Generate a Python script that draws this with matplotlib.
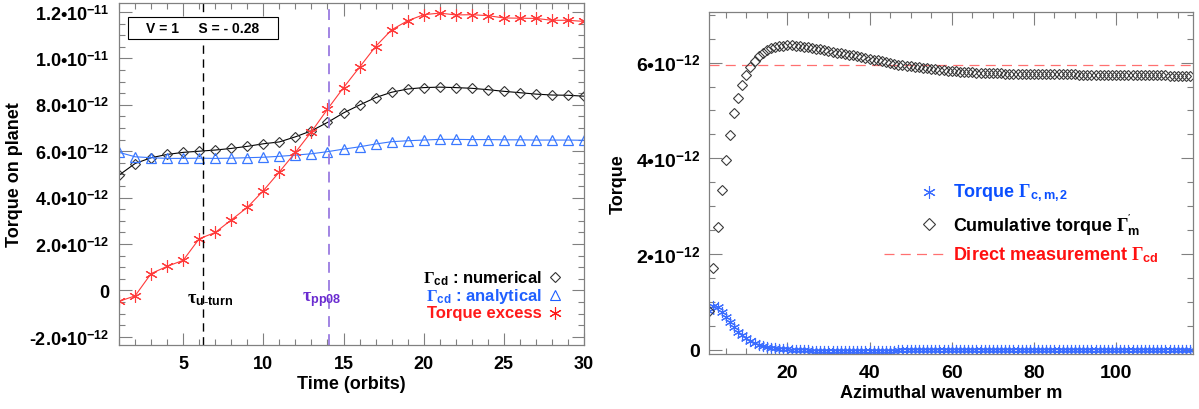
import matplotlib
matplotlib.use("Agg")
import matplotlib.pyplot as plt
from matplotlib.ticker import MultipleLocator, FixedLocator, FixedFormatter
from matplotlib.patches import Rectangle

plt.rcParams['font.family'] = ['Liberation Sans', 'DejaVu Sans']
plt.rcParams['font.weight'] = 'bold'
plt.rcParams['axes.labelweight'] = 'bold'
plt.rcParams['mathtext.fontset'] = 'custom'
plt.rcParams['mathtext.rm'] = 'Liberation Serif'
plt.rcParams['mathtext.it'] = 'Liberation Serif:italic'
plt.rcParams['mathtext.bf'] = 'Liberation Sans:bold'
plt.rcParams['mathtext.sf'] = 'Liberation Sans:bold'

# ---- left panel data (torque in units of 1e-12) ----
time_orbits = list(range(1, 31))
numerical = [4.97, 5.47, 5.72, 5.86, 5.95, 6.00, 6.05, 6.12, 6.21, 6.32,
             6.40, 6.62, 6.88, 7.24, 7.65, 7.99, 8.31, 8.54, 8.68, 8.74,
             8.76, 8.74, 8.71, 8.65, 8.58, 8.52, 8.46, 8.42, 8.41, 8.37]
analytical = [5.95, 5.76, 5.72, 5.69, 5.69, 5.70, 5.69, 5.70, 5.72, 5.74,
              5.78, 5.83, 5.89, 5.98, 6.09, 6.19, 6.31, 6.41, 6.45, 6.48,
              6.51, 6.51, 6.50, 6.50, 6.49, 6.49, 6.48, 6.48, 6.48, 6.47]
excess = [-0.47, -0.23, 0.73, 1.04, 1.30, 2.23, 2.50, 3.04, 3.58, 4.30,
          5.11, 5.95, 6.84, 7.81, 8.74, 9.62, 10.51, 11.23, 11.62, 11.88,
          11.95, 11.87, 11.88, 11.84, 11.74, 11.73, 11.72, 11.64, 11.64, 11.59]
t_uturn = 6.26
t_pp08 = 14.1
left_yticks = [-2, 0, 2, 4, 6, 8, 10, 12]
left_yticklabels = ['-2.0•10$^{\\mathbf{-12}}$', '0', '2.0•10$^{\\mathbf{-12}}$',
                    '4.0•10$^{\\mathbf{-12}}$', '6.0•10$^{\\mathbf{-12}}$',
                    '8.0•10$^{\\mathbf{-12}}$', '1.0•10$^{\\mathbf{-11}}$',
                    '1.2•10$^{\\mathbf{-11}}$']

# ---- right panel data (torque in units of 1e-12) ----
m_values = list(range(1, 119))
torque_m = [0.82, 0.91, 0.89, 0.78, 0.68, 0.57, 0.47, 0.38, 0.31, 0.24,
            0.19, 0.14, 0.10, 0.08, 0.06, 0.04, 0.03, 0.02, 0.015, 0.01,
            0.005, 0.0, -0.01, -0.01, -0.01, -0.02, -0.02, -0.02, -0.02, -0.02,
            -0.02, -0.02, -0.02, -0.02, -0.02, -0.02, -0.02, -0.02, -0.02, -0.02,
            -0.02, -0.02, -0.02, -0.02, -0.02, -0.02, -0.01, -0.01, -0.01, -0.01,
            -0.01, -0.01, -0.01, -0.01, -0.01, -0.01, -0.01, -0.01, -0.01, -0.01,
            -0.01, -0.01, -0.01, -0.01, -0.01, 0.0, 0.0, 0.0, 0.0, 0.0,
            0.0, 0.0, 0.0, 0.0, 0.0, 0.0, 0.0, 0.0, 0.0, 0.0,
            0.0, 0.0, 0.0, 0.0, 0.0, 0.0, 0.0, 0.0, 0.0, 0.0,
            0.0, 0.0, 0.0, 0.0, 0.0, 0.0, 0.0, 0.0, 0.0, 0.0,
            0.0, 0.0, 0.0, 0.0, 0.0, 0.0, 0.0, 0.0, 0.0, 0.0,
            0.0, 0.0, 0.0, 0.0, 0.0, 0.0, 0.0, 0.0]
cumulative = [0.82, 1.70, 2.56, 3.34, 3.97, 4.49, 4.95, 5.27, 5.54, 5.74,
              5.90, 6.03, 6.13, 6.20, 6.26, 6.30, 6.32, 6.34, 6.35, 6.36,
              6.36, 6.35, 6.34, 6.33, 6.32, 6.31, 6.29, 6.28, 6.26, 6.25,
              6.23, 6.21, 6.20, 6.18, 6.16, 6.15, 6.13, 6.11, 6.10, 6.08,
              6.06, 6.05, 6.03, 6.01, 5.99, 5.97, 5.95, 5.94, 5.93, 5.92,
              5.91, 5.90, 5.89, 5.88, 5.87, 5.86, 5.85, 5.84, 5.83, 5.82,
              5.82, 5.81, 5.81, 5.80, 5.80, 5.79, 5.79, 5.79, 5.78, 5.78,
              5.78, 5.78, 5.77, 5.77, 5.77, 5.77, 5.77, 5.77, 5.77, 5.77,
              5.76, 5.76, 5.76, 5.76, 5.76, 5.76, 5.76, 5.76, 5.76, 5.76,
              5.75, 5.75, 5.75, 5.75, 5.75, 5.75, 5.75, 5.75, 5.75, 5.75,
              5.74, 5.74, 5.74, 5.74, 5.74, 5.74, 5.74, 5.74, 5.74, 5.74,
              5.74, 5.74, 5.73, 5.73, 5.73, 5.73, 5.73, 5.73]
direct_measurement = 5.95
right_yticks = [0, 2, 4, 6]
right_yticklabels = ['0', '2•10$^{\\mathbf{-12}}$', '4•10$^{\\mathbf{-12}}$',
                     '6•10$^{\\mathbf{-12}}$']

spine_gray = '#808080'
asterisk = (6, 2, 0)

fig = plt.figure(figsize=(11.99, 4.10), dpi=100)
ax1 = fig.add_axes([0.0993, 0.156, 0.3878, 0.834])
ax2 = fig.add_axes([0.5916, 0.134, 0.4037, 0.8334])

for ax in (ax1, ax2):
    for s in ax.spines.values():
        s.set_color(spine_gray)
        s.set_linewidth(0.9)
    ax.tick_params(which='both', direction='in', top=True, right=True,
                   color=spine_gray, width=0.8, labelcolor='black')
    ax.tick_params(which='major', length=9, pad=7)
    ax.tick_params(which='minor', length=4.5)

# ---- left panel ----
ax1.plot(time_orbits, numerical, color='black', lw=0.8, marker='D', ms=5,
         mfc='none', mec='#333333', mew=0.8)
ax1.plot(time_orbits, analytical, color='#3a78ff', lw=0.8, marker='^', ms=7,
         mfc='none', mec='#3a78ff', mew=0.9)
ax1.plot(time_orbits, excess, color='#ff3a3a', lw=0.8, marker=asterisk, ms=9,
         mec='#ff3a3a', mew=0.8)
ax1.axvline(t_uturn, color='black', lw=1.0, ls=(0, (6, 4)))
ax1.axvline(t_pp08, color='#9a7be0', lw=1.3, ls=(0, (6, 4)))
ax1.set_xlim(1, 30)
ax1.set_ylim(-2.35, 12.38)
ax1.xaxis.set_major_locator(FixedLocator([5, 10, 15, 20, 25, 30]))
ax1.xaxis.set_minor_locator(MultipleLocator(1))
ax1.yaxis.set_major_locator(FixedLocator(left_yticks))
ax1.yaxis.set_major_formatter(FixedFormatter(left_yticklabels))
ax1.yaxis.set_minor_locator(MultipleLocator(0.5))
ax1.tick_params(labelsize=13)
ax1.set_xlabel('Time (orbits)', fontsize=13, labelpad=2)
ax1.set_ylabel('Torque on planet', fontsize=13, labelpad=4)

ax1.text(t_uturn - 1.0, -0.35, r'$\mathrm{\tau}_{\mathbf{u\text{-}turn}}$',
         fontsize=13, color='black', va='center')
ax1.text(t_pp08 - 1.7, -0.35, r'$\mathrm{\tau}_{\mathbf{pp08}}$',
         fontsize=13, color='#6a2bd0', va='center')

ax1.add_patch(Rectangle((0.019, 0.895), 0.322, 0.064, transform=ax1.transAxes,
                        fill=True, facecolor='white', edgecolor='black', lw=0.8,
                        zorder=5))
ax1.text(0.18, 0.927, 'V = 1     S = - 0.28', transform=ax1.transAxes,
         ha='center', va='center', fontsize=10, zorder=6)

leg1 = [(r'$\Gamma_{\mathbf{cd}}$ : numerical', 'black', 'D', 5, 0.198),
        (r'$\Gamma_{\mathbf{cd}}$ : analytical', '#1f5fff', '^', 7, 0.146),
        ('Torque excess', '#ff1a1a', asterisk, 9, 0.094)]
for label, col, mk, size, yy in leg1:
    ax1.text(0.909, yy, label, transform=ax1.transAxes, ha='right',
             va='center', fontsize=12, color=col)
    ax1.plot([0.938], [yy], transform=ax1.transAxes, marker=mk, ms=size,
             mfc='none', mec=('#333333' if col == 'black' else col), mew=0.8,
             ls='none', clip_on=False)

# ---- right panel ----
ax2.axhline(direct_measurement, color='#ff7070', lw=0.9, ls=(0, (8, 5)))
ax2.plot(m_values, torque_m, ls='none', marker=asterisk, ms=8,
         mec='#3a6cff', mew=0.8)
ax2.plot(m_values, cumulative, ls='none', marker='D', ms=5.5, mfc='none',
         mec='#3a3a3a', mew=0.8)
ax2.set_xlim(1, 118.8)
ax2.set_ylim(-0.09, 7.05)
ax2.xaxis.set_major_locator(FixedLocator([20, 40, 60, 80, 100]))
ax2.xaxis.set_minor_locator(MultipleLocator(5))
ax2.yaxis.set_major_locator(FixedLocator(right_yticks))
ax2.yaxis.set_major_formatter(FixedFormatter(right_yticklabels))
ax2.yaxis.set_minor_locator(MultipleLocator(0.5))
ax2.tick_params(labelsize=14)
ax2.set_xlabel('Azimuthal wavenumber m', fontsize=13, labelpad=2)
ax2.set_ylabel('Torque', fontsize=13, labelpad=6)

ax2.plot([0.454], [0.473], transform=ax2.transAxes, marker=asterisk, ms=9,
         mec='#3a6cff', mew=0.8, ls='none')
ax2.text(0.503, 0.473, r'Torque $\Gamma_{\mathbf{c,m,2}}$', transform=ax2.transAxes,
         va='center', fontsize=13, color='#0a4fff')
ax2.plot([0.454], [0.380], transform=ax2.transAxes, marker='D', ms=6,
         mfc='none', mec='#3a3a3a', mew=0.8, ls='none')
ax2.text(0.503, 0.380, r"Cumulative torque $\Gamma^{'}_{\mathbf{m}}$",
         transform=ax2.transAxes, va='center', fontsize=13, color='black')
ax2.plot([0.361, 0.483], [0.293, 0.293], transform=ax2.transAxes,
         color='#ff7070', lw=0.9, ls=(0, (8, 5)))
ax2.text(0.503, 0.293, r'Direct measurement $\Gamma_{\mathbf{cd}}$',
         transform=ax2.transAxes, va='center', fontsize=13, color='#ff1010')

fig.savefig('out.png', dpi=100)
